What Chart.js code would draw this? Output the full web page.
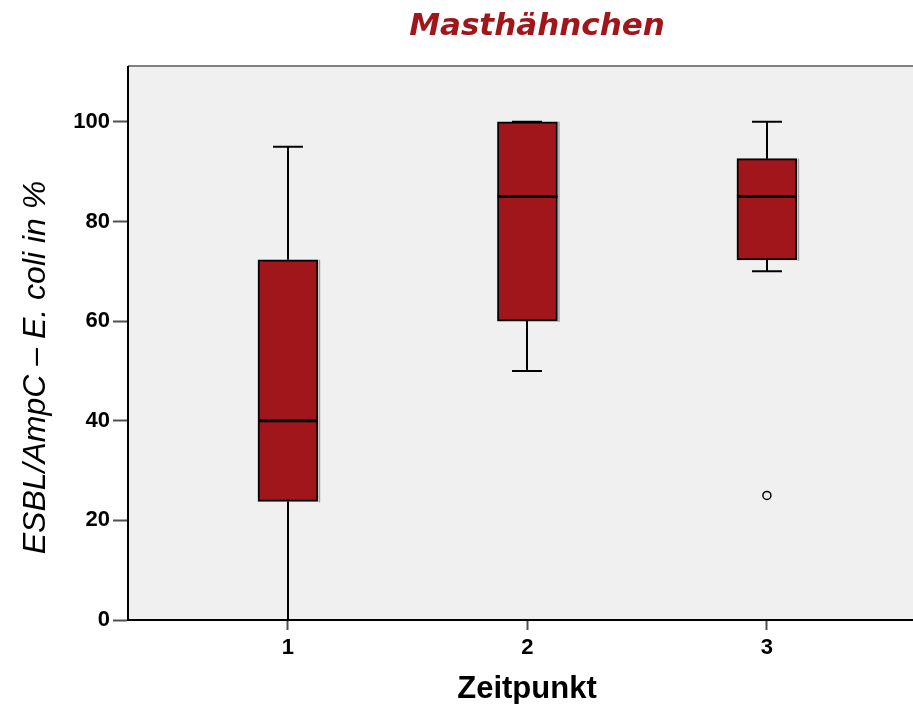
<!DOCTYPE html>
<html>
<head>
<meta charset="utf-8">
<script src="https://cdn.jsdelivr.net/npm/chart.js@4.4.1/dist/chart.umd.min.js"></script>
<style>
    html, body { margin: 0; padding: 0; background: #ffffff; }
    #wrap { width: 913px; height: 704px; }
</style>
</head>
<body>
<div id="wrap"><canvas id="boxChart"></canvas></div>
<script>
// Box plot data
const categories = [1, 2, 3];
const whiskerLow = [0, 50, 70];
const q1 = [23.8, 60, 72.3];
const median = [40, 85, 85];
const q3 = [72.3, 100, 92.6];
const whiskerHigh = [95, 100, 100];
const outlierX = [3];
const outlierY = [25];
const yTicks = [0, 20, 40, 60, 80, 100];

const colors = {
    box: '#A1161A',
    title: '#A1161A',
    plotBg: '#F0F0F0',
    frame: '#808080',
    axis: '#000000',
    tick: '#505050'
};

// Plot background, frame line, whiskers, medians and titles
const boxPlotPlugin = {
    id: 'boxPlotPlugin',
    beforeDraw: function(chart) {
        const ctx = chart.ctx;
        const a = chart.chartArea;
        ctx.save();
        ctx.fillStyle = colors.plotBg;
        ctx.fillRect(a.left, a.top, a.right - a.left, a.bottom - a.top);
        ctx.strokeStyle = colors.frame;
        ctx.lineWidth = 2;
        ctx.beginPath();
        ctx.moveTo(a.left, a.top - 1);
        ctx.lineTo(a.right, a.top - 1);
        ctx.stroke();
        ctx.restore();
    },
    beforeDatasetsDraw: function(chart) {
        const ctx = chart.ctx;
        const x = chart.scales.x;
        const y = chart.scales.y;
        ctx.save();
        ctx.strokeStyle = '#000000';
        ctx.lineWidth = 2;
        categories.forEach(function(c, i) {
            const px = Math.round(x.getPixelForValue(c));
            const capHalf = (x.getPixelForValue(c + 0.0625) - x.getPixelForValue(c));
            ctx.beginPath();
            ctx.moveTo(px, y.getPixelForValue(whiskerHigh[i]));
            ctx.lineTo(px, y.getPixelForValue(q3[i]));
            ctx.moveTo(px, y.getPixelForValue(q1[i]));
            ctx.lineTo(px, y.getPixelForValue(whiskerLow[i]));
            [whiskerHigh[i], whiskerLow[i]].forEach(function(v) {
                const py = y.getPixelForValue(v);
                ctx.moveTo(px - capHalf, py);
                ctx.lineTo(px + capHalf, py);
            });
            ctx.stroke();
        });
        ctx.restore();
    },
    afterDatasetsDraw: function(chart) {
        const ctx = chart.ctx;
        const y = chart.scales.y;
        const bars = chart.getDatasetMeta(0).data;
        ctx.save();
        categories.forEach(function(c, i) {
            const bar = bars[i];
            const half = bar.width / 2;
            // light shadow on the right of each box
            ctx.strokeStyle = '#a0a0a0';
            ctx.lineWidth = 1.5;
            ctx.beginPath();
            ctx.moveTo(bar.x + half + 1.5, y.getPixelForValue(q3[i]));
            ctx.lineTo(bar.x + half + 1.5, y.getPixelForValue(q1[i]) + 1);
            ctx.stroke();
            // median line
            ctx.strokeStyle = '#000000';
            ctx.lineWidth = 3;
            ctx.beginPath();
            const py = y.getPixelForValue(median[i]);
            ctx.moveTo(bar.x - half, py);
            ctx.lineTo(bar.x + half, py);
            ctx.stroke();
        });
        ctx.restore();
    },
    afterDraw: function(chart) {
        const ctx = chart.ctx;
        const a = chart.chartArea;
        ctx.save();
        ctx.textAlign = 'center';
        ctx.textBaseline = 'middle';
        // main title
        ctx.fillStyle = colors.title;
        ctx.font = "italic bold 31px 'DejaVu Sans', Verdana, sans-serif";
        ctx.fillText('Masthähnchen', 537, 27);
        // x axis title
        ctx.fillStyle = '#000000';
        ctx.font = "bold 31px 'Liberation Sans', Arial, sans-serif";
        ctx.fillText('Zeitpunkt', 527, 689);
        // y axis title
        ctx.translate(36, (a.top + a.bottom) / 2 + 24);
        ctx.rotate(-Math.PI / 2);
        ctx.font = "italic 32px 'Liberation Sans', Arial, sans-serif";
        ctx.fillText('ESBL/AmpC \u2013 E. coli in %', 0, 0);
        ctx.restore();
    }
};

const ctx = document.getElementById('boxChart').getContext('2d');
const boxChart = new Chart(ctx, {
    type: 'bar',
    data: {
        datasets: [{
            label: 'Box',
            data: categories.map(function(c, i) { return { x: c, y: [q1[i], q3[i]] }; }),
            backgroundColor: colors.box,
            borderColor: '#000000',
            borderWidth: 2,
            borderSkipped: false,
            barThickness: 60,
            order: 2
        }, {
            type: 'scatter',
            label: 'Ausreißer',
            data: outlierX.map(function(v, i) { return { x: v, y: outlierY[i] }; }),
            pointStyle: 'circle',
            pointRadius: 4,
            pointBackgroundColor: 'rgba(0,0,0,0)',
            pointBorderColor: '#000000',
            pointBorderWidth: 1.5,
            order: 1
        }]
    },
    options: {
        responsive: true,
        maintainAspectRatio: false,
        animation: false,
        layout: { autoPadding: false, padding: { top: 67, left: 0, right: 0, bottom: 0 } },
        plugins: {
            legend: { display: false },
            tooltip: { enabled: false },
            title: { display: false }
        },
        scales: {
            x: {
                type: 'linear',
                offset: false,
                min: 0.332,
                max: 3.61,
                afterBuildTicks: function(scale) {
                    scale.ticks = categories.map(function(v) { return { value: v }; });
                },
                afterFit: function(scale) {
                    scale.height = 84;
                    scale.paddingLeft = 0;
                    scale.paddingRight = 0;
                },
                border: { display: true, color: colors.axis, width: 2 },
                grid: {
                    offset: false,
                    drawOnChartArea: false,
                    drawTicks: true,
                    tickLength: 10,
                    tickWidth: 2,
                    tickColor: colors.tick
                },
                ticks: {
                    color: '#000000',
                    padding: 5,
                    font: { family: "'Liberation Sans', Arial, sans-serif", size: 22, weight: 'bold' }
                }
            },
            y: {
                min: 0,
                max: 111,
                afterBuildTicks: function(scale) {
                    scale.ticks = yTicks.map(function(v) { return { value: v }; });
                },
                afterFit: function(scale) { scale.width = 128; },
                border: { display: true, color: colors.axis, width: 2 },
                grid: {
                    drawOnChartArea: false,
                    drawTicks: true,
                    tickLength: 15,
                    tickWidth: 2,
                    tickColor: colors.tick
                },
                ticks: {
                    color: '#000000',
                    padding: 3,
                    font: { family: "'Liberation Sans', Arial, sans-serif", size: 22, weight: 'bold' }
                }
            }
        }
    },
    plugins: [boxPlotPlugin]
});
</script>
</body>
</html>
